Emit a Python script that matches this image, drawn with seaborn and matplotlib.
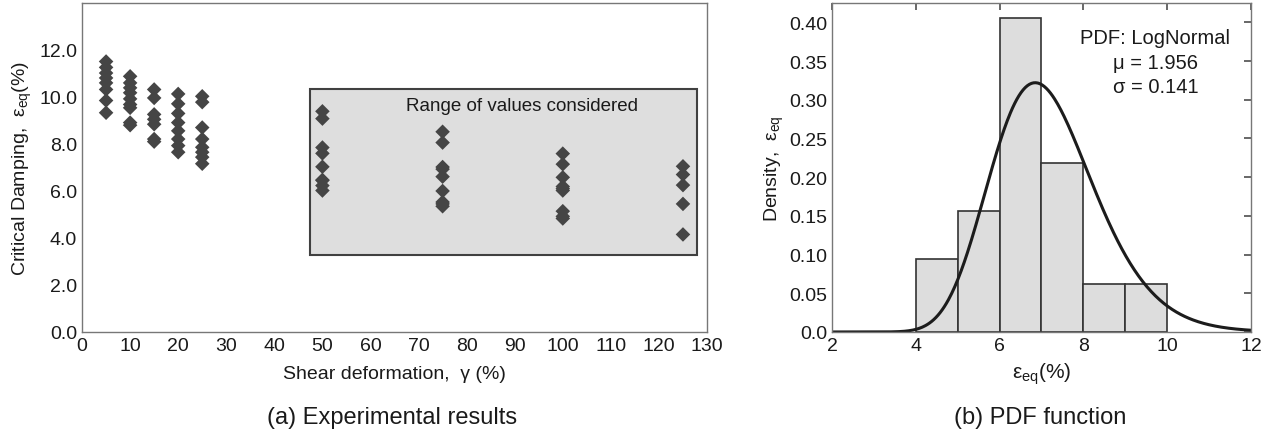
import numpy as np
import pandas as pd
import matplotlib
matplotlib.use("Agg")
import matplotlib.pyplot as plt
import seaborn as sns

# ─── Data ────────────────────────────────────────────────────────────────────
shear_small = [5, 10, 15, 20, 25]
damping_small = [
    [11.51, 11.26, 11.02, 10.81, 10.60, 10.32, 9.85, 9.33],
    [10.88, 10.60, 10.39, 10.18, 9.92, 9.68, 9.54, 8.91, 8.80],
    [10.32, 9.96, 9.26, 9.05, 8.84, 8.21, 8.10],
    [10.13, 9.71, 9.30, 8.91, 8.56, 8.21, 7.93, 7.65],
    [10.03, 9.78, 8.70, 8.21, 7.86, 7.65, 7.44, 7.16],
]
# points inside the "range of values considered" box (used for the histogram)
shear_range = [50, 75, 100, 125]
damping_range = [
    [9.39, 9.08, 7.85, 7.60, 7.03, 6.47, 6.45, 6.23, 6.02],
    [8.52, 8.06, 7.02, 6.93, 6.61, 6.00, 5.53, 5.45, 5.35],
    [7.59, 7.14, 6.58, 6.19, 6.10, 6.02, 5.14, 4.92, 4.83],
    [7.05, 6.70, 6.25, 5.45, 4.15],
]
box_x = [47.5, 128.0]
box_y = [3.28, 10.35]

hist_bins = [4, 5, 6, 7, 8, 9, 10]
pdf_mu = 1.956
pdf_sigma_curve = 0.178
label_mu = "1.956"
label_sigma = "0.141"

x_ticks_a = list(range(0, 131, 10))
y_ticks_a = [0, 2, 4, 6, 8, 10, 12, 14]
x_ticks_b = [2, 4, 6, 8, 10, 12]
y_ticks_b = [0.0, 0.05, 0.10, 0.15, 0.20, 0.25, 0.30, 0.35, 0.40]

# ─── Style ────────────────────────────────────────────────────────────────────
sns.set_theme(style="white")
plt.rcParams["font.family"] = ["Liberation Sans", "DejaVu Sans"]
plt.rcParams.update({
    "mathtext.fontset": "custom",
    "mathtext.rm": "Liberation Sans",
    "mathtext.it": "Liberation Sans:italic",
    "xtick.direction": "in",
    "ytick.direction": "in",
    "xtick.major.size": 5,
    "ytick.major.size": 5,
    "xtick.color": "#555555",
    "ytick.color": "#555555",
    "xtick.labelcolor": "#1a1a1a",
    "ytick.labelcolor": "#1a1a1a",
    "xtick.labelsize": 14,
    "ytick.labelsize": 14,
    "axes.labelsize": 14,
    "axes.labelcolor": "#1a1a1a",
    "text.color": "#1a1a1a",
    "axes.edgecolor": "#777777",
    "axes.linewidth": 1.0,
})

rows = []
for xs, ys in zip(shear_small + shear_range, damping_small + damping_range):
    for v in ys:
        rows.append({"shear": xs, "damping": v})
df = pd.DataFrame(rows)
range_vals = np.concatenate([np.array(v) for v in damping_range])

EPS = r"$\mathrm{\varepsilon}_{\mathrm{eq}}$"

fig = plt.figure(figsize=(12.7, 4.39), dpi=100)
ax1 = fig.add_axes([0.0646, 0.2415, 0.4921, 0.7494])
ax2 = fig.add_axes([0.6551, 0.2415, 0.3299, 0.7494])

# ─── (a) Experimental results ────────────────────────────────────────────────
ax1.add_patch(plt.Rectangle((box_x[0], box_y[0]), box_x[1] - box_x[0],
                            box_y[1] - box_y[0], facecolor="#dedede",
                            edgecolor="#404040", lw=1.5, zorder=1))
ax1.text(91.6, 9.64, "Range of values considered", ha="center", va="center",
         fontsize=13.5, zorder=2)
sns.scatterplot(data=df, x="shear", y="damping", marker="D", s=55,
                color="#454545", edgecolor="none", ax=ax1, zorder=3)
ax1.set_xlim(0, 130)
ax1.set_ylim(0, 14)
ax1.set_xticks(x_ticks_a)
ax1.set_yticks(y_ticks_a)
ax1.set_yticklabels([f"{t:.1f}" for t in y_ticks_a[:-1]] + [""])
ax1.set_xlabel("Shear deformation,  γ (%)", labelpad=8)
ax1.set_ylabel("Critical Damping,  " + EPS + "(%)", labelpad=4)

# ─── (b) PDF function ────────────────────────────────────────────────────────
sns.histplot(x=range_vals, bins=hist_bins, stat="density", color="#dddddd",
             edgecolor="#333333", linewidth=1.2, alpha=1, ax=ax2)
xg = np.linspace(2, 12, 400)
pdf = np.exp(-(np.log(xg) - pdf_mu) ** 2 / (2 * pdf_sigma_curve ** 2)) / (
    xg * pdf_sigma_curve * np.sqrt(2 * np.pi))
sns.lineplot(x=xg, y=pdf, color="#1c1c1c", lw=2.2, ax=ax2)
ax2.set_xlim(2, 12)
ax2.set_ylim(0, 0.425)
ax2.set_xticks(x_ticks_b)
ax2.set_yticks(y_ticks_b)
ax2.set_yticklabels(["0.0"] + [f"{t:.2f}" for t in y_ticks_b[1:]])
ax2.tick_params(top=True, right=True)
ax2.set_xlabel(EPS + "(%)", labelpad=5, fontsize=15)
ax2.set_ylabel("Density,  " + EPS, labelpad=2)
ax2.text(9.72, 0.38, "PDF: LogNormal", ha="center", va="center", fontsize=14.5)
ax2.text(9.72, 0.348, f"μ = {label_mu}", ha="center", va="center", fontsize=14.5)
ax2.text(9.72, 0.317, f"σ = {label_sigma}", ha="center", va="center", fontsize=14.5)

fig.text(0.309, 0.048, "(a) Experimental results", ha="center", va="center",
         fontsize=17)
fig.text(0.819, 0.048, "(b) PDF function", ha="center", va="center", fontsize=17)

fig.savefig("out.png", dpi=100)
